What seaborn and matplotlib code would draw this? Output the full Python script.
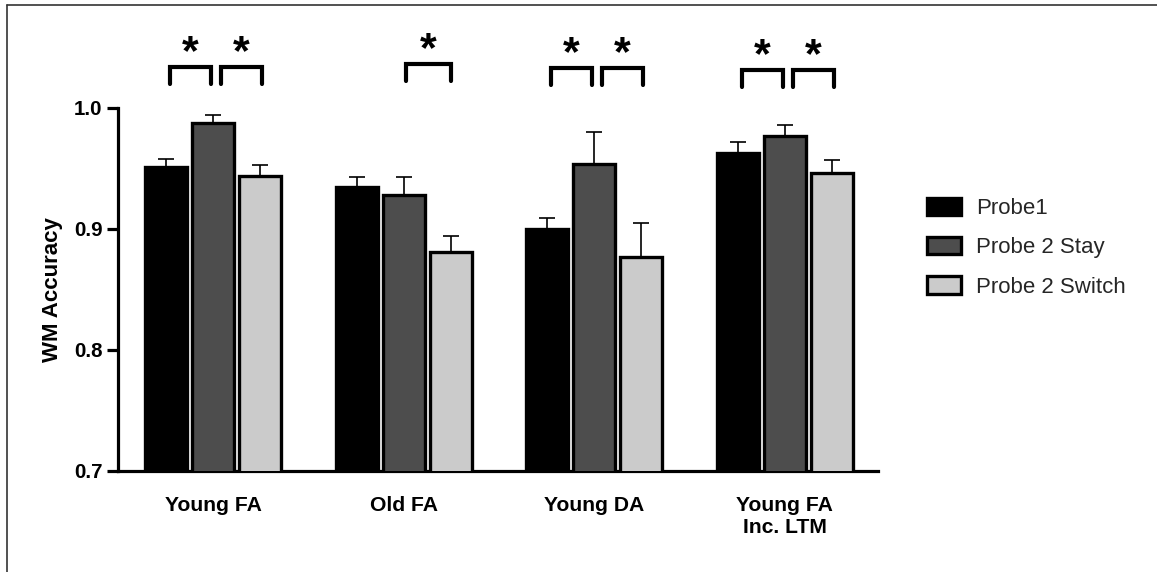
import matplotlib
matplotlib.use("Agg")
import matplotlib.pyplot as plt
import matplotlib.lines as mlines
import seaborn as sns
import pandas as pd
import numpy as np

groups = ["Young FA", "Old FA", "Young DA", "Young FA\nInc. LTM"]
conditions = ["Probe1", "Probe 2 Stay", "Probe 2 Switch"]
probe1 = [0.951, 0.935, 0.900, 0.963]
stay = [0.988, 0.928, 0.954, 0.977]
switch = [0.944, 0.881, 0.877, 0.946]
probe1_err = [0.007, 0.008, 0.009, 0.009]
stay_err = [0.006, 0.015, 0.026, 0.009]
switch_err = [0.009, 0.013, 0.028, 0.011]
colors = ["#000000", "#4d4d4d", "#cbcbcb"]
# significance brackets: (group index, left bar, right bar)
sig_pairs = [(0, 0, 1), (0, 1, 2), (1, 1, 2), (2, 0, 1), (2, 1, 2), (3, 0, 1), (3, 1, 2)]
sig_top = [1.034, 1.034, 1.036, 1.033, 1.033, 1.031, 1.031]

rows = []
for g, a, b, c, ea, eb, ec in zip(groups, probe1, stay, switch, probe1_err, stay_err, switch_err):
    rows.append((g, conditions[0], a, ea))
    rows.append((g, conditions[1], b, eb))
    rows.append((g, conditions[2], c, ec))
df = pd.DataFrame(rows, columns=["group", "condition", "acc", "err"])

sns.set_style("white")
plt.rcParams["font.family"] = ["Liberation Sans", "DejaVu Sans"]

fig = plt.figure(figsize=(11.57, 5.72), dpi=100)
ax = fig.add_axes([118 / 1157, 1 - 471 / 572, (878 - 118) / 1157, (471 - 108) / 572])

sns.barplot(data=df, x="group", y="acc", hue="condition", order=groups,
            hue_order=conditions, palette=colors, width=0.74, gap=0.11,
            edgecolor="black", linewidth=2.4, errorbar=None, ax=ax, zorder=3)

# error bars (upper only) from bar patches
bars = [p for p in ax.patches if p.get_height() > 0][:12]
centers = {}
for ci, cond in enumerate(conditions):
    for gi, g in enumerate(groups):
        p = bars[ci * len(groups) + gi]
        x = p.get_x() + p.get_width() / 2
        centers[(gi, ci)] = x
        row = df[(df.group == g) & (df.condition == cond)].iloc[0]
        ax.errorbar(x, row.acc, yerr=[[0], [row.err]], fmt="none", ecolor="black",
                    elinewidth=1.2, capsize=6, capthick=1.2, zorder=2)

ax.set_ylim(0.7, 1.0)
ax.set_xlim(-0.5, 3.49)
ax.set_yticks([0.7, 0.8, 0.9, 1.0])
ax.set_yticklabels(["0.7", "0.8", "0.9", "1.0"])
ax.set_xlabel("")
ax.set_ylabel("WM Accuracy", fontsize=16, fontweight="bold", labelpad=8, color="black")
for s in ["top", "right"]:
    ax.spines[s].set_visible(False)
for s in ["left", "bottom"]:
    ax.spines[s].set_linewidth(2.3)
    ax.spines[s].set_color("black")
ax.tick_params(axis="y", length=8, width=2.3, color="black", pad=3, left=True,
               labelsize=14.8)
ax.tick_params(axis="x", length=0, pad=18, labelsize=15.2)
for lab in ax.get_xticklabels() + ax.get_yticklabels():
    lab.set_fontweight("bold")
    lab.set_color("black")

# significance brackets
px = 1 / 190.7
for (gi, l, r), top in zip(sig_pairs, sig_top):
    if l == 0:
        x0 = centers[(gi, l)] + 4 * px
        x1 = centers[(gi, r)] - 2 * px
    else:
        x0 = centers[(gi, l)] + (8 if gi != 1 else 2) * px
        x1 = centers[(gi, r)] + (2 if gi != 1 else 0) * px
    bot = top - 0.014
    ax.plot([x0, x0, x1, x1], [bot, top, top, bot], color="black", lw=3,
            solid_capstyle="round", solid_joinstyle="miter", clip_on=False)
    ax.text((x0 + x1) / 2, top - 0.005, "*", ha="center", va="bottom",
            fontsize=31, fontweight="bold", color="black", clip_on=False)

# legend
handles, labels = ax.get_legend_handles_labels()
ax.legend(handles, labels, loc="upper left", bbox_to_anchor=(927 / 1157, 1 - 198 / 572),
          bbox_transform=fig.transFigure, frameon=False, fontsize=16,
          handlelength=1.55, handleheight=0.82, handletextpad=0.65,
          labelspacing=0.8, borderpad=0, borderaxespad=0)

# figure border lines (left and top)
fig.add_artist(mlines.Line2D([7 / 1157, 7 / 1157], [0, 1 - 5 / 572], color="#333333",
                             lw=1.2, transform=fig.transFigure))
fig.add_artist(mlines.Line2D([7 / 1157, 1], [1 - 5 / 572, 1 - 5 / 572], color="#333333",
                             lw=1.2, transform=fig.transFigure))

fig.savefig("out.png", dpi=100)
